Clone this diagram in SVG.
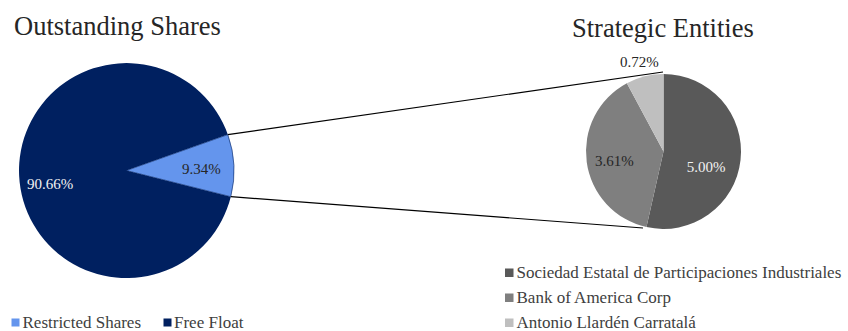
<svg xmlns="http://www.w3.org/2000/svg" width="848" height="331" viewBox="0 0 848 331">
<style>
text{font-family:'Liberation Serif','DejaVu Serif',serif}
.title{font-size:26.5px;fill:#262626}
.lbl{font-size:15px}
.dk{fill:#262626}
.wt{fill:#f2f2f2}
.leg{font-size:17px;fill:#404040}
.navy{fill:#002060}
.lblue{fill:#6495ed}
.g1{fill:#595959}
.g2{fill:#7f7f7f}
.g3{fill:#bfbfbf}
.conn{stroke:#000;stroke-width:1.2;fill:none}
</style>
<rect width="848" height="331" fill="#fff"/>
<g id="title-left"><text class="title" x="14" y="35" font-family="Liberation Serif">Outstanding Shares</text></g>
<g id="title-right"><text class="title" x="572" y="36.5">Strategic Entities</text></g>
<g id="pie-outstanding">
<path id="free-float" class="navy" d="M126.5,170.5 L227.8,134.6 A107.5,107.5 0 1 0 230.8,196.7 Z"/>
<path id="restricted" class="lblue" stroke="#002060" stroke-width="0.6" d="M126.5,170.5 L227.8,134.6 A107.5,107.5 0 0 1 230.8,196.7 Z"/>
<text class="lbl wt" x="27" y="188.5">90.66%</text>
<text class="lbl dk" x="182" y="174">9.34%</text>
</g>
<g id="pie-strategic">
<path id="sepi" class="g1" d="M663.5,151.5 L663.5,74 A77.5,77.5 0 1 1 646.46,227.1 Z"/>
<path id="boa" class="g2" d="M663.5,151.5 L646.46,227.1 A77.5,77.5 0 0 1 626.87,83.2 Z"/>
<path id="llarden" class="g3" d="M663.5,151.5 L626.87,83.2 A77.5,77.5 0 0 1 663.5,74 Z"/>
<text class="lbl dk" x="620" y="66.5">0.72%</text>
<text class="lbl dk" x="595" y="165.5">3.61%</text>
<text class="lbl wt" x="686.7" y="171.5">5.00%</text>
</g>
<g id="connectors">
<line class="conn" x1="227.8" y1="134.6" x2="663" y2="72"/>
<line class="conn" x1="230.8" y1="196.7" x2="643" y2="228"/>
</g>
<g id="legend-left">
<rect class="lblue" x="11.5" y="318.5" width="8" height="8"/>
<text class="leg" x="22.5" y="328">Restricted Shares</text>
<rect class="navy" x="163.5" y="318.5" width="8" height="8"/>
<text class="leg" x="174" y="328">Free Float</text>
</g>
<g id="legend-right">
<rect class="g1" x="505" y="268.5" width="8.5" height="8.5"/>
<text class="leg" x="516.5" y="277.5">Sociedad Estatal de Participaciones Industriales</text>
<rect class="g2" x="505" y="293.5" width="8.5" height="8.5"/>
<text class="leg" x="516.5" y="302.5">Bank of America Corp</text>
<rect class="g3" x="505" y="318.5" width="8.5" height="8.5"/>
<text class="leg" x="516.5" y="327.5">Antonio Llardén Carratalá</text>
</g>
</svg>
